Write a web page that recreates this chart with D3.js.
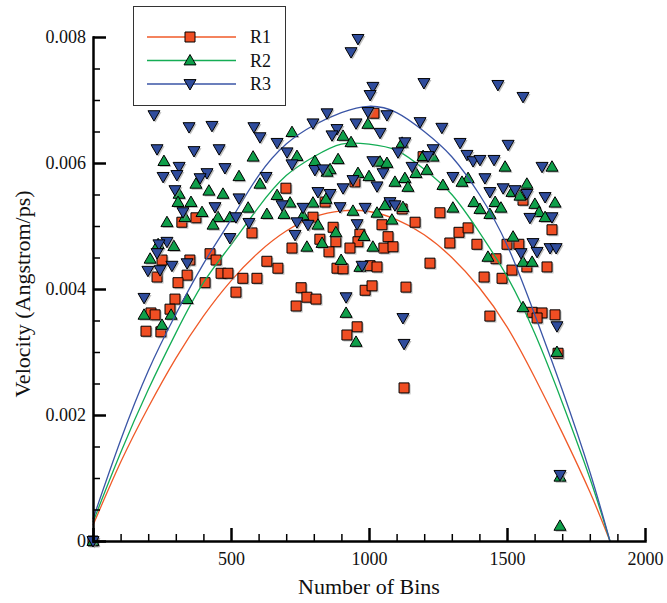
<!DOCTYPE html>
<html>
<head>
<meta charset="utf-8">
<script src="https://cdn.jsdelivr.net/npm/d3@7"></script>
<style>
  body { margin: 0; background: #fff; }
  svg { display: block; font-family: "Liberation Serif", "Times New Roman", serif; }
</style>
</head>
<body>
<div id="chart"></div>
<script>
// tick values / labels
var xTicks = [0, 500, 1000, 1500, 2000];
var xTickLabels = ['', '500', '1000', '1500', '2000'];
var yTicks = [0, 0.002, 0.004, 0.006, 0.008];
var yTickLabels = ['0', '0.002', '0.004', '0.006', '0.008'];

var seriesNames = ['R1', 'R2', 'R3'];

// scatter points [bins, velocity]
var r1Points = [
  [0, 0], [1018, 0.00679], [699, 0.00560], [949, 0.00570], [322, 0.00506], [373, 0.00513],
  [576, 0.00489], [841, 0.00538], [797, 0.00514], [870, 0.00498], [822, 0.00479], [880, 0.00475],
  [967, 0.00487], [960, 0.00475], [1047, 0.00502], [1069, 0.00483], [931, 0.00465], [721, 0.00465],
  [1196, 0.00610], [1120, 0.00527], [1257, 0.00521], [1167, 0.00506], [1326, 0.00490], [1359, 0.00497],
  [1293, 0.00473], [1391, 0.00471], [1500, 0.00471], [1054, 0.00465], [1087, 0.00467], [424, 0.00456],
  [446, 0.00446], [351, 0.00446], [250, 0.00446], [464, 0.00425], [489, 0.00425], [341, 0.00422],
  [232, 0.00419], [308, 0.00410], [406, 0.00410], [543, 0.00417], [594, 0.00417], [630, 0.00444],
  [670, 0.00433], [518, 0.00395], [297, 0.00384], [279, 0.00368], [210, 0.00362], [225, 0.00359],
  [192, 0.00333], [246, 0.00332], [855, 0.00459], [754, 0.00402], [775, 0.00387], [808, 0.00384],
  [736, 0.00373], [884, 0.00433], [906, 0.00432], [1004, 0.00437], [986, 0.00398], [1011, 0.00405],
  [957, 0.00340], [920, 0.00327], [1221, 0.00441], [1134, 0.00403], [1127, 0.00243], [1029, 0.00435],
  [1558, 0.00541], [1663, 0.00494], [1543, 0.00471], [1460, 0.00448], [1572, 0.00435], [1645, 0.00435],
  [1518, 0.00430], [1417, 0.00419], [1482, 0.00417], [1438, 0.00357], [1591, 0.00363], [1627, 0.00362],
  [1674, 0.00359], [1609, 0.00354], [1685, 0.00298]
];

var r2Points = [
  [0, 0], [721, 0.00649], [906, 0.00643], [935, 0.00633], [996, 0.00662], [257, 0.00603],
  [580, 0.00610], [739, 0.00611], [804, 0.00603], [888, 0.00606], [859, 0.00590], [848, 0.00586],
  [529, 0.00579], [373, 0.00567], [420, 0.00556], [471, 0.00551], [312, 0.00551], [308, 0.00538],
  [355, 0.00538], [605, 0.00567], [395, 0.00522], [268, 0.00506], [333, 0.00514], [453, 0.00514],
  [435, 0.00502], [562, 0.00529], [630, 0.00519], [496, 0.00514], [236, 0.00471], [293, 0.00468],
  [207, 0.00448], [341, 0.00384], [185, 0.00359], [283, 0.00359], [250, 0.00343], [1040, 0.00602],
  [960, 0.00584], [1000, 0.00579], [667, 0.00549], [714, 0.00537], [844, 0.00543], [797, 0.00537],
  [692, 0.00519], [761, 0.00517], [942, 0.00524], [1029, 0.00521], [1058, 0.00533], [815, 0.00502],
  [880, 0.00490], [982, 0.00484], [830, 0.00473], [775, 0.00467], [1014, 0.00467], [899, 0.00446],
  [917, 0.00362], [953, 0.00316], [967, 0.00435], [1120, 0.00632], [1196, 0.00611], [1232, 0.00610],
  [1065, 0.00600], [1210, 0.00589], [1170, 0.00584], [1130, 0.00576], [1094, 0.00570], [1141, 0.00562],
  [1268, 0.00565], [1359, 0.00576], [1337, 0.00570], [1493, 0.00594], [1380, 0.00538], [1457, 0.00538],
  [1402, 0.00527], [1438, 0.00519], [1304, 0.00529], [1123, 0.00530], [1083, 0.00510], [1663, 0.00594],
  [1572, 0.00567], [1518, 0.00554], [1547, 0.00548], [1478, 0.00529], [1601, 0.00535], [1674, 0.00537],
  [1616, 0.00522], [1638, 0.00514], [1522, 0.00483], [1431, 0.00451], [1558, 0.00443], [1591, 0.00443],
  [1558, 0.00371], [1681, 0.00300], [1692, 0.00102], [1692, 0.00024]
];

var r3Points = [
  [0, 0], [960, 0.00797], [935, 0.00776], [1014, 0.00721], [1004, 0.00708], [1199, 0.00727],
  [1467, 0.00724], [1558, 0.00705], [221, 0.00676], [348, 0.00657], [431, 0.00659], [583, 0.00657],
  [605, 0.00641], [667, 0.00632], [797, 0.00663], [848, 0.00679], [884, 0.00654], [866, 0.00644],
  [953, 0.00663], [996, 0.00681], [1065, 0.00676], [1185, 0.00665], [1264, 0.00656], [1040, 0.00648],
  [232, 0.00622], [366, 0.00619], [457, 0.00622], [312, 0.00594], [304, 0.00581], [254, 0.00578],
  [413, 0.00584], [388, 0.00576], [478, 0.00592], [627, 0.00578], [703, 0.00617], [721, 0.00598],
  [804, 0.00589], [833, 0.00590], [1014, 0.00603], [1051, 0.00584], [1029, 0.00563], [942, 0.00573],
  [906, 0.00560], [815, 0.00554], [859, 0.00551], [685, 0.00533], [761, 0.00529], [895, 0.00530],
  [986, 0.00529], [739, 0.00506], [779, 0.00502], [957, 0.00503], [732, 0.00486], [297, 0.00557],
  [326, 0.00522], [442, 0.00530], [529, 0.00544], [518, 0.00514], [565, 0.00505], [496, 0.00481],
  [268, 0.00475], [239, 0.00471], [232, 0.00457], [199, 0.00429], [243, 0.00430], [286, 0.00437],
  [341, 0.00441], [185, 0.00386], [1130, 0.00633], [1105, 0.00617], [1232, 0.00622], [1214, 0.00611],
  [1330, 0.00632], [1355, 0.00613], [1377, 0.00603], [1402, 0.00605], [1453, 0.00605], [1504, 0.00629],
  [1156, 0.00594], [1304, 0.00578], [1420, 0.00576], [1438, 0.00554], [1486, 0.00560], [1076, 0.00538],
  [1094, 0.00533], [1627, 0.00594], [1529, 0.00557], [1572, 0.00551], [1638, 0.00546], [1583, 0.00513],
  [1663, 0.00514], [1594, 0.00473], [1551, 0.00457], [1609, 0.00459], [1656, 0.00465], [1678, 0.00465],
  [1681, 0.00341], [1692, 0.00105], [917, 0.00387], [975, 0.00437], [1123, 0.00354], [1127, 0.00313]
];

// fitted curves
var r1Curve = [
  [0, 0.00025], [100, 0.00125], [200, 0.00212], [300, 0.0029], [400, 0.00357], [500, 0.00413],
  [600, 0.00458], [700, 0.00492], [800, 0.00514], [900, 0.00524], [1000, 0.00523], [1100, 0.0051],
  [1200, 0.00486], [1300, 0.0045], [1400, 0.00402], [1500, 0.0034], [1600, 0.0026], [1700, 0.00172],
  [1800, 0.00078], [1873, 0]
];
var r2Curve = [
  [0, 0.0003], [100, 0.0014], [200, 0.0024], [300, 0.0033], [400, 0.0041], [500, 0.0047],
  [600, 0.0053], [700, 0.0058], [800, 0.0061], [900, 0.0063], [1000, 0.0063], [1100, 0.0062],
  [1200, 0.0059], [1300, 0.0055], [1400, 0.0049], [1500, 0.0042], [1600, 0.0033], [1700, 0.0022],
  [1800, 0.0010], [1873, 0]
];
var r3Curve = [
  [0, 0.00035], [100, 0.0016], [200, 0.0027], [300, 0.0036], [400, 0.0044], [500, 0.0051],
  [600, 0.0058], [700, 0.0063], [800, 0.0066], [900, 0.0068], [1000, 0.0069], [1100, 0.0068],
  [1200, 0.0065], [1300, 0.0061], [1400, 0.0055], [1500, 0.0047], [1600, 0.0036], [1700, 0.0024],
  [1800, 0.0011], [1873, 0]
];

var width = 667, height = 603;
var svg = d3.select('#chart').append('svg').attr('width', width).attr('height', height);

var x = d3.scaleLinear().domain([0, 2000]).range([93, 645]);
var y = d3.scaleLinear().domain([0, 0.008]).range([541, 37]);

var lineColors = ['#f05a28', '#14ad55', '#3a55a6'];
var fillColors = ['#f04e23', '#0f9f4a', '#2f4c9c'];
var shapes = ['square', 'up', 'down'];

function markerPath(shape) {
  if (shape === 'square') return 'M-5,-5H5V5H-5Z';
  if (shape === 'up') return 'M0,-6L6,4.4L-6,4.4Z';
  return 'M0,6L6,-4.4L-6,-4.4Z';
}

var line = d3.line()
  .x(function (d) { return x(d[0]); })
  .y(function (d) { return y(d[1]); })
  .curve(d3.curveNatural);

var curves = [r1Curve, r2Curve, r3Curve];
var points = [r1Points, r2Points, r3Points];

// series: line, then symbols
points.forEach(function (pts, i) {
  svg.append('path')
    .datum(curves[i])
    .attr('d', line)
    .attr('fill', 'none')
    .attr('stroke', lineColors[i])
    .attr('stroke-width', 1.3);

  var g = svg.append('g');
  g.selectAll('path.shadow')
    .data(pts)
    .enter()
    .append('path')
    .attr('class', 'shadow')
    .attr('d', markerPath(shapes[i]))
    .attr('transform', function (d) { return 'translate(' + (x(d[0]) + 1.5) + ',' + (y(d[1]) + 1.5) + ')'; })
    .attr('fill', '#888')
    .attr('opacity', 0.55);
  g.selectAll('path.mark')
    .data(pts)
    .enter()
    .append('path')
    .attr('class', 'mark')
    .attr('d', markerPath(shapes[i]))
    .attr('transform', function (d) { return 'translate(' + x(d[0]) + ',' + y(d[1]) + ')'; })
    .attr('fill', fillColors[i])
    .attr('stroke', '#000')
    .attr('stroke-width', 1);
});

// minor ticks
var xMinor = d3.range(0, 2001, 100).filter(function (v) { return v % 500 !== 0; });
var yMinor = d3.range(0, 0.00801, 0.0005).filter(function (v) { return Math.abs(v / 0.002 - Math.round(v / 0.002)) > 0.01; });

svg.append('g')
  .attr('transform', 'translate(0,541)')
  .call(d3.axisBottom(x).tickValues(xMinor).tickSize(-7).tickFormat(''))
  .call(function (g) { g.select('.domain').remove(); g.selectAll('line').attr('stroke-width', 1.5); });

svg.append('g')
  .attr('transform', 'translate(93,0)')
  .call(d3.axisLeft(y).tickValues(yMinor).tickSize(-7).tickFormat(''))
  .call(function (g) { g.select('.domain').remove(); g.selectAll('line').attr('stroke-width', 1.5); });

// major axes
var xAxis = svg.append('g')
  .attr('transform', 'translate(0,541)')
  .call(d3.axisBottom(x).tickValues(xTicks).tickSizeInner(-13).tickSizeOuter(0).tickPadding(11)
    .tickFormat(function (d, i) { return xTickLabels[i]; }));

var yAxis = svg.append('g')
  .attr('transform', 'translate(93,0)')
  .call(d3.axisLeft(y).tickValues(yTicks).tickSizeInner(-13).tickSizeOuter(0).tickPadding(7)
    .tickFormat(function (d, i) { return yTickLabels[i]; }));

[xAxis, yAxis].forEach(function (g) {
  g.select('.domain').attr('stroke-width', 2.5).attr('stroke-linecap', 'square');
  g.selectAll('line').attr('stroke-width', 2.5);
  g.selectAll('text').attr('font-size', 18).attr('font-family', '"Liberation Serif", serif').attr('fill', '#111');
});

// axis titles
svg.append('text')
  .attr('x', 369)
  .attr('y', 594)
  .attr('text-anchor', 'middle')
  .attr('font-size', 22)
  .attr('fill', '#111')
  .text('Number of Bins');

svg.append('text')
  .attr('transform', 'translate(30,294) rotate(-90)')
  .attr('text-anchor', 'middle')
  .attr('font-size', 22)
  .attr('fill', '#111')
  .text('Velocity (Angstrom/ps)');

// legend
var legend = svg.append('g');
legend.append('rect')
  .attr('x', 133.5).attr('y', 6.5)
  .attr('width', 152).attr('height', 99)
  .attr('fill', '#fff')
  .attr('stroke', '#333')
  .attr('stroke-width', 1);

seriesNames.forEach(function (name, i) {
  var ly = 37 + i * 23.5;
  legend.append('line')
    .attr('x1', 147).attr('x2', 236)
    .attr('y1', ly).attr('y2', ly)
    .attr('stroke', lineColors[i])
    .attr('stroke-width', 1.3);
  legend.append('path')
    .attr('d', markerPath(shapes[i]))
    .attr('transform', 'translate(190,' + ly + ')')
    .attr('fill', fillColors[i])
    .attr('stroke', '#000');
  legend.append('text')
    .attr('x', 250)
    .attr('y', ly + 6)
    .attr('font-size', 18)
    .attr('fill', '#111')
    .text(name);
});
</script>
</body>
</html>
